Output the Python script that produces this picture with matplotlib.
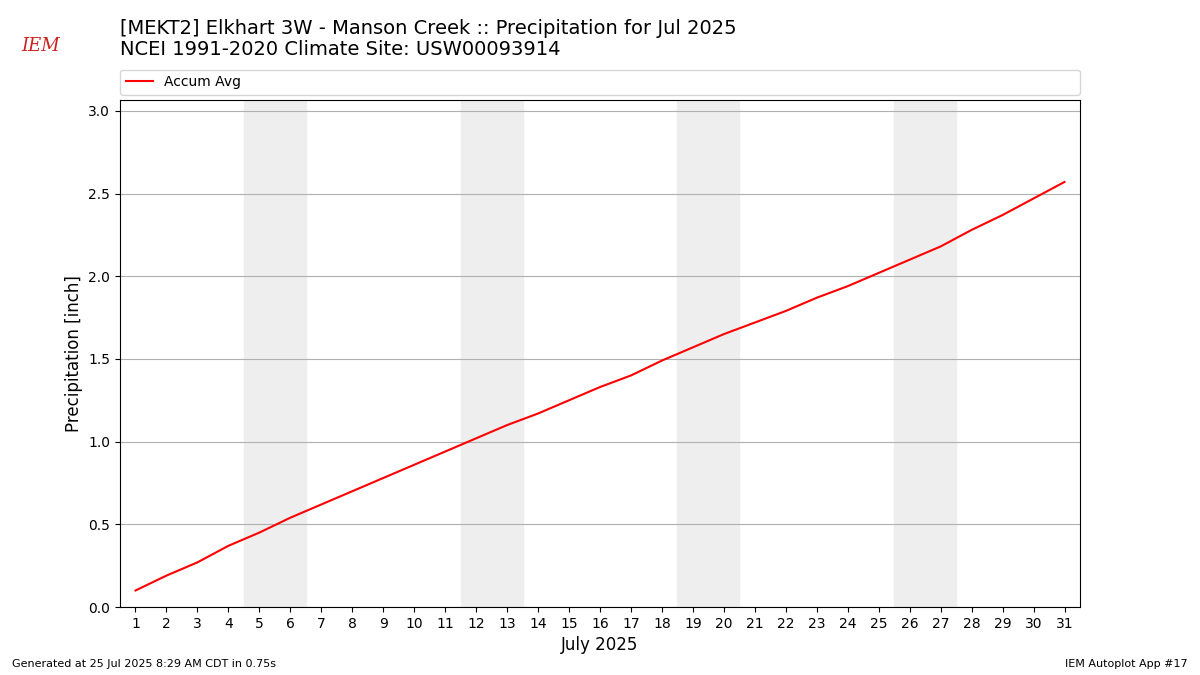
import matplotlib
matplotlib.use("Agg")
import matplotlib.pyplot as plt

days = list(range(1, 32))
accum_avg = [0.10, 0.19, 0.27, 0.37, 0.45, 0.54, 0.62, 0.70, 0.78, 0.86, 0.94,
             1.02, 1.10, 1.17, 1.25, 1.33, 1.40, 1.49, 1.57, 1.65, 1.72, 1.79,
             1.87, 1.94, 2.02, 2.10, 2.18, 2.28, 2.37, 2.47, 2.57]
weekends = [(4.5, 6.5), (11.5, 13.5), (18.5, 20.5), (25.5, 27.5)]

fig = plt.figure(figsize=(12, 6.75), dpi=100)
ax = fig.add_axes([0.1, 0.1007, 0.8, 0.7513])
for a, b in weekends:
    ax.axvspan(a, b, color="#eeeeee", zorder=0)
ax.plot(days, accum_avg, color="red", label="Accum Avg", zorder=3)
ax.set_xlim(0.5, 31.5)
ax.set_ylim(0, 3.066)
ax.set_xticks(days)
ax.set_yticks([0, 0.5, 1.0, 1.5, 2.0, 2.5, 3.0])
ax.yaxis.grid(True, color="#b0b0b0", zorder=1)
ax.set_axisbelow(True)
ax.set_xlabel("July 2025", fontsize=12)
ax.set_ylabel("Precipitation [inch]", fontsize=12)
ax.legend(loc="lower left", bbox_to_anchor=(0, 1.01, 1, 0.05), mode="expand",
          ncol=1, borderaxespad=0, fontsize=10)

fig.text(0.1, 0.9585, "[MEKT2] Elkhart 3W - Manson Creek :: Precipitation for Jul 2025",
         fontsize=14, va="center")
fig.text(0.1, 0.926, "NCEI 1991-2020 Climate Site: USW00093914", fontsize=14, va="center")
fig.text(0.01, 0.012, "Generated at 25 Jul 2025 8:29 AM CDT in 0.75s", fontsize=8)
fig.text(0.99, 0.012, "IEM Autoplot App #17", fontsize=8, ha="right")
fig.text(0.018, 0.925, "IEM", fontsize=13, color="#cc2222", style="italic", family="DejaVu Serif")
fig.savefig("out.png", dpi=100)
